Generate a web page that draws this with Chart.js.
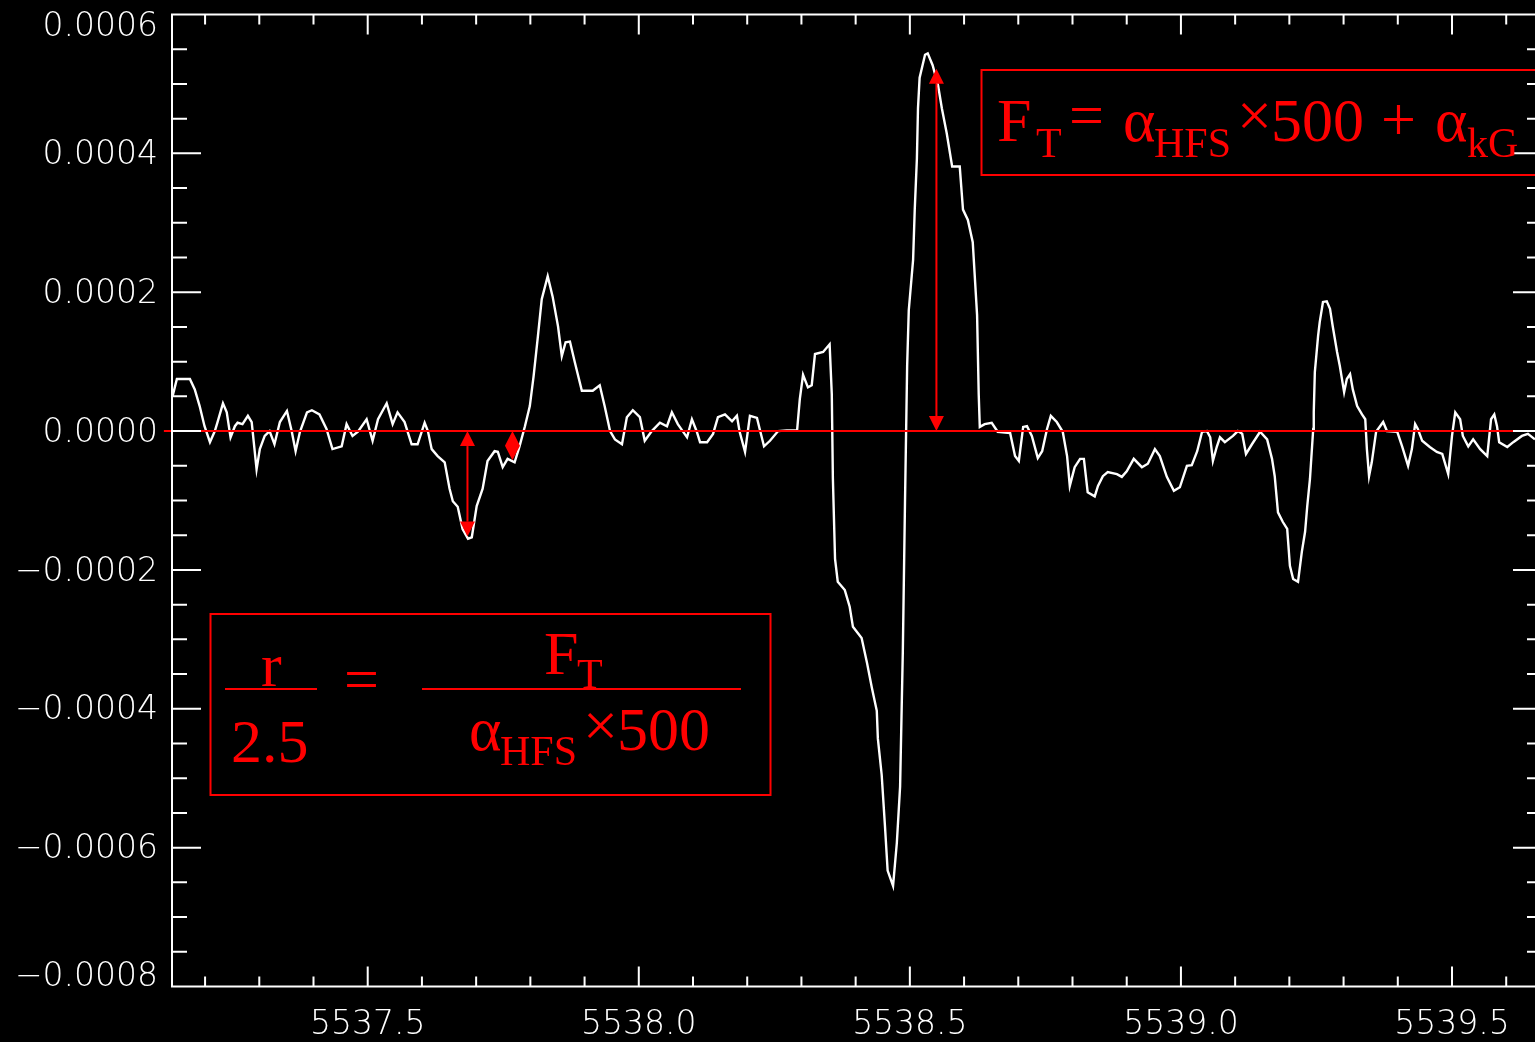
<!DOCTYPE html>
<html lang="en">
<head>
<meta charset="UTF-8">
<title>Spectrum with HFS formulas</title>
<script src="https://cdn.jsdelivr.net/npm/chart.js"></script>
<style>
  html, body { margin: 0; padding: 0; background: #000; overflow: hidden; }
  #wrap { width: 1543px; height: 1042px; }
</style>
</head>
<body>
<div id="wrap"><canvas id="chart" width="1543" height="1042"></canvas></div>
<script>
// wavelength (Angstrom) and signal (in units of 1e-6)
const wavelength = [
  5537.140, 5537.148, 5537.172, 5537.181, 5537.190, 5537.199, 5537.209, 5537.218, 5537.223, 5537.233,
  5537.240, 5537.247, 5537.255, 5537.260, 5537.269, 5537.279, 5537.286, 5537.295, 5537.301, 5537.310,
  5537.319, 5537.328, 5537.338, 5537.351, 5537.360, 5537.367, 5537.375, 5537.388, 5537.397, 5537.411,
  5537.424, 5537.435, 5537.452, 5537.461, 5537.472, 5537.482, 5537.498, 5537.509, 5537.519, 5537.535,
  5537.546, 5537.555, 5537.568, 5537.581, 5537.592, 5537.605, 5537.611, 5537.618, 5537.629, 5537.642,
  5537.651, 5537.657, 5537.666, 5537.675, 5537.685, 5537.692, 5537.701, 5537.712, 5537.721, 5537.734,
  5537.740, 5537.749, 5537.758, 5537.771, 5537.780, 5537.790, 5537.799, 5537.806, 5537.814, 5537.821,
  5537.832, 5537.841, 5537.851, 5537.858, 5537.865, 5537.873, 5537.882, 5537.895, 5537.915, 5537.928,
  5537.937, 5537.947, 5537.956, 5537.969, 5537.978, 5537.989, 5538.002, 5538.011, 5538.024, 5538.039,
  5538.052, 5538.061, 5538.072, 5538.089, 5538.098, 5538.107, 5538.113, 5538.126, 5538.137, 5538.146,
  5538.159, 5538.172, 5538.181, 5538.186, 5538.196, 5538.205, 5538.218, 5538.223, 5538.231, 5538.242,
  5538.257, 5538.273, 5538.292, 5538.297, 5538.303, 5538.312, 5538.319, 5538.325, 5538.340, 5538.352,
  5538.356, 5538.358, 5538.362, 5538.367, 5538.380, 5538.389, 5538.395, 5538.411, 5538.421, 5538.430,
  5538.439, 5538.441, 5538.448, 5538.454, 5538.459, 5538.469, 5538.476, 5538.482, 5538.487, 5538.491,
  5538.495, 5538.498, 5538.506, 5538.509, 5538.513, 5538.515, 5538.518, 5538.528, 5538.533, 5538.542,
  5538.552, 5538.559, 5538.568, 5538.578, 5538.587, 5538.592, 5538.598, 5538.607, 5538.616, 5538.624,
  5538.627, 5538.629, 5538.638, 5538.651, 5538.662, 5538.685, 5538.694, 5538.701, 5538.709, 5538.716,
  5538.725, 5538.736, 5538.744, 5538.753, 5538.760, 5538.771, 5538.782, 5538.790, 5538.795, 5538.804,
  5538.814, 5538.821, 5538.828, 5538.841, 5538.847, 5538.856, 5538.865, 5538.882, 5538.891, 5538.900,
  5538.913, 5538.928, 5538.939, 5538.952, 5538.961, 5538.974, 5538.987, 5538.998, 5539.011, 5539.020,
  5539.030, 5539.039, 5539.048, 5539.054, 5539.059, 5539.066, 5539.072, 5539.081, 5539.096, 5539.105,
  5539.113, 5539.120, 5539.131, 5539.146, 5539.159, 5539.168, 5539.173, 5539.179, 5539.188, 5539.196,
  5539.201, 5539.207, 5539.216, 5539.223, 5539.229, 5539.233, 5539.238, 5539.244, 5539.245, 5539.247,
  5539.253, 5539.256, 5539.262, 5539.269, 5539.275, 5539.280, 5539.288, 5539.293, 5539.301, 5539.306,
  5539.312, 5539.317, 5539.325, 5539.334, 5539.340, 5539.343, 5539.347, 5539.352, 5539.360, 5539.373,
  5539.380, 5539.399, 5539.408, 5539.419, 5539.426, 5539.432, 5539.437, 5539.445, 5539.459, 5539.472,
  5539.482, 5539.493, 5539.500, 5539.506, 5539.515, 5539.520, 5539.530, 5539.539, 5539.552, 5539.565,
  5539.572, 5539.578, 5539.583, 5539.587, 5539.602, 5539.613, 5539.629, 5539.640, 5539.653
];
const fluxE6 = [
  50, 75, 75, 60, 36, 7, -16, 0, 13, 40,
  27, -9, 7, 12, 10, 22, 13, -55, -26, -7,
  0, -19, 13, 29, -1, -29, -1, 27, 30, 24,
  3, -26, -22, 10, -7, -1, 17, -14, 17, 40,
  10, 27, 13, -19, -19, 12, 0, -26, -36, -45,
  -83, -101, -109, -141, -155, -153, -108, -83, -43, -29,
  -30, -52, -40, -45, -22, 7, 36, 79, 137, 190,
  223, 194, 151, 108, 128, 129, 99, 58, 58, 66,
  36, 0, -12, -19, 20, 30, 20, -14, 0, 12,
  7, 27, 10, -9, 17, -1, -16, -16, -4, 20,
  24, 14, 22, -1, -30, 22, 19, 3, -22, -14,
  0, 1, 1, 46, 81, 63, 66, 111, 114, 125,
  53, -68, -184, -217, -229, -253, -282, -298, -334, -370,
  -403, -443, -495, -568, -633, -655, -593, -512, -318, -104,
  94, 174, 247, 319, 393, 465, 509, 542, 544, 527,
  498, 465, 429, 381, 381, 381, 319, 304, 272, 167,
  53, 6, 10, 12, -1, -3, -36, -43, 6, 7,
  -7, -39, -29, 3, 22, 13, -1, -36, -79, -52,
  -40, -40, -88, -94, -79, -65, -59, -62, -66, -58,
  -40, -52, -47, -26, -36, -66, -86, -81, -50, -49,
  -29, -1, 0, -9, -43, -23, -9, -16, -7, 0,
  -4, -33, -19, -1, -12, -40, -65, -117, -131, -141,
  -194, -213, -217, -174, -145, -108, -69, 3, 27, 85,
  137, 157, 186, 187, 176, 151, 114, 94, 56, 75,
  82, 60, 36, 24, 17, -26, -65, -45, -1, 13,
  0, -1, -22, -50, -26, 10, 3, -14, -23, -30,
  -33, -62, -7, 27, 17, -7, -22, -12, -26, -36,
  17, 24, 7, -16, -23, -16, -7, -4, -12
];

// red reference line at zero
const zeroLineX = [5537.124, 5539.666];
const zeroLineY = [0, 0];

// red double arrows: position and the two ends
const arrowX = [5537.684, 5537.767, 5538.549];
const arrowFrom = [0, 0, 0];
const arrowTo = [-152e-6, -42e-6, 522e-6];

// axes
const xRange = [5537.139, 5539.666];
const yRange = [-0.0008, 0.0006];
const xMajorTicks = [5537.5, 5538.0, 5538.5, 5539.0, 5539.5];
const xMinorTicks = [5537.2, 5537.3, 5537.4, 5537.6, 5537.7, 5537.8, 5537.9, 5538.1, 5538.2, 5538.3,
  5538.4, 5538.6, 5538.7, 5538.8, 5538.9, 5539.1, 5539.2, 5539.3, 5539.4, 5539.6];
const yMajorTicks = [-0.0008, -0.0006, -0.0004, -0.0002, 0, 0.0002, 0.0004, 0.0006];
const yMinorTicks = [-0.00075, -0.0007, -0.00065, -0.00055, -0.0005, -0.00045, -0.00035, -0.0003,
  -0.00025, -0.00015, -0.0001, -0.00005, 0.00005, 0.0001, 0.00015, 0.00025, 0.0003, 0.00035,
  0.00045, 0.0005, 0.00055];

const RED = '#ff0000';
const WHITE = '#ffffff';
const serif = '"Liberation Serif", "Times New Roman", serif';
const tickFont = { family: '"DejaVu Sans", sans-serif', size: 33, weight: '200' };

// frame with inward ticks on all four sides (IDL style)
const framePlugin = {
  id: 'frame',
  afterDatasetsDraw(chart) {
    const { ctx, chartArea: a, scales: { x, y } } = chart;
    ctx.save();
    ctx.strokeStyle = WHITE;
    ctx.lineWidth = 2;
    ctx.beginPath();
    ctx.moveTo(a.right, a.top); ctx.lineTo(a.left, a.top);
    ctx.lineTo(a.left, a.bottom); ctx.lineTo(a.right, a.bottom);
    ctx.moveTo(a.right, a.top); ctx.lineTo(a.right, a.bottom);
    const xt = (v, len) => {
      const p = x.getPixelForValue(v);
      ctx.moveTo(p, a.bottom); ctx.lineTo(p, a.bottom - len);
      ctx.moveTo(p, a.top); ctx.lineTo(p, a.top + len);
    };
    const yt = (v, len) => {
      const p = y.getPixelForValue(v);
      ctx.moveTo(a.left, p); ctx.lineTo(a.left + len, p);
      ctx.moveTo(a.right, p); ctx.lineTo(a.right - len, p);
    };
    xMajorTicks.forEach(v => xt(v, 20));
    xMinorTicks.forEach(v => xt(v, 10));
    yMajorTicks.forEach(v => yt(v, 29));
    yMinorTicks.forEach(v => yt(v, 15));
    ctx.stroke();
    ctx.restore();
  }
};

// red arrows and the two formula boxes
const notesPlugin = {
  id: 'notes',
  afterDraw(chart) {
    const { ctx, scales: { x, y } } = chart;
    ctx.save();
    ctx.strokeStyle = RED;
    ctx.fillStyle = RED;
    ctx.lineWidth = 2;

    arrowX.forEach((xv, i) => {
      const px = x.getPixelForValue(xv);
      const a = y.getPixelForValue(Math.max(arrowFrom[i], arrowTo[i]));
      const b = y.getPixelForValue(Math.min(arrowFrom[i], arrowTo[i]));
      const head = Math.min(15, (b - a) / 2), half = 7.5;
      ctx.beginPath();
      ctx.moveTo(px, a + head); ctx.lineTo(px, b - head);
      ctx.stroke();
      ctx.beginPath();
      ctx.moveTo(px, a); ctx.lineTo(px - half, a + head); ctx.lineTo(px + half, a + head); ctx.closePath();
      ctx.moveTo(px, b); ctx.lineTo(px - half, b - head); ctx.lineTo(px + half, b - head); ctx.closePath();
      ctx.fill();
    });

    // boxes
    ctx.strokeRect(981.5, 70, 640, 105);
    ctx.strokeRect(210.5, 614, 560, 181);

    // fraction bars
    ctx.beginPath();
    ctx.moveTo(225, 689); ctx.lineTo(317, 689);
    ctx.moveTo(422, 689); ctx.lineTo(741, 689);
    ctx.stroke();

    const pieces = [
      ['F', 997, 141, 62], ['T', 1036, 157, 42], ['=', 1069, 136, 62], ['\u03b1', 1123, 141, 62],
      ['HFS', 1154, 157, 42], ['\u00d7', 1237, 136, 62], ['500', 1271, 141, 62], ['+', 1381, 140, 62],
      ['\u03b1', 1435, 141, 62], ['kG', 1467, 157, 42],
      ['r', 261, 686, 62], ['2.5', 231, 762, 62], ['=', 344, 700, 62],
      ['F', 544, 674, 62], ['T', 577, 688, 42],
      ['\u03b1', 469, 750, 62], ['HFS', 500, 765, 42], ['\u00d7', 583, 746, 62], ['500', 617, 750, 62]
    ];
    ctx.textAlign = 'left';
    ctx.textBaseline = 'alphabetic';
    pieces.forEach(([t, px, py, s]) => {
      ctx.font = s + 'px ' + serif;
      ctx.fillText(t, px, py);
    });
    ctx.restore();
  }
};

const yLabel = v => (Math.abs(v) < 1e-12 ? 0 : v).toFixed(4).replace('-', '\u2212');

new Chart(document.getElementById('chart'), {
  type: 'line',
  data: {
    datasets: [
      {
        label: 'zero',
        data: zeroLineX.map((v, i) => ({ x: v, y: zeroLineY[i] })),
        borderColor: RED, borderWidth: 2, pointRadius: 0, clip: false, order: 0
      },
      {
        label: 'signal',
        data: wavelength.map((w, i) => ({ x: w, y: fluxE6[i] * 1e-6 })),
        borderColor: WHITE, borderWidth: 2.4, pointRadius: 0, tension: 0, order: 1
      }
    ]
  },
  options: {
    responsive: false,
    devicePixelRatio: 1,
    animation: false,
    layout: { padding: { top: 14.5, right: 1, left: 0, bottom: 0 } },
    plugins: { legend: { display: false }, tooltip: { enabled: false } },
    scales: {
      x: {
        type: 'linear',
        min: xRange[0], max: xRange[1],
        grid: { display: false, drawTicks: false },
        border: { display: false },
        afterBuildTicks: s => { s.ticks = xMajorTicks.map(v => ({ value: v })); },
        afterFit: s => { s.height = 55.5; s.paddingLeft = 0; s.paddingRight = 0; },
        ticks: {
          color: WHITE, font: tickFont, padding: 19, maxRotation: 0, autoSkip: false,
          callback: v => v.toFixed(1)
        }
      },
      y: {
        type: 'linear',
        min: yRange[0], max: yRange[1],
        grid: { display: false, drawTicks: false },
        border: { display: false },
        afterBuildTicks: s => { s.ticks = yMajorTicks.map(v => ({ value: v })); },
        afterFit: s => { s.width = 172; s.paddingTop = 0; s.paddingBottom = 0; },
        ticks: {
          color: WHITE, padding: 14, autoSkip: false, labelOffset: 2,
          font: Object.assign({}, tickFont, { lineHeight: 0.667 }),
          callback: (v, i, ticks) => {
            const s = yLabel(v);
            if (i === ticks.length - 1) return ['', s];
            if (i === 0) return [s, ''];
            return s;
          }
        }
      }
    }
  },
  plugins: [framePlugin, notesPlugin]
});
</script>
</body>
</html>
